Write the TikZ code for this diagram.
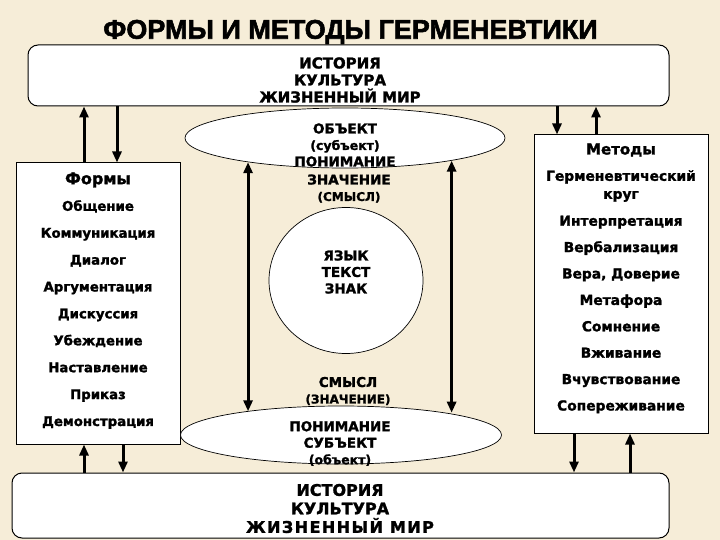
\documentclass[tikz,border=0pt]{standalone}
\usepackage{fontspec}
\setmainfont{DejaVu Sans}[BoldFeatures={FakeBold=1.6}]
\newfontfamily\ttlfont{Liberation Sans}[BoldFeatures={FakeBold=2}]
\newfontfamily\widefont[LetterSpace=9,BoldFeatures={FakeBold=1.6}]{DejaVu Sans}
\usetikzlibrary{shapes.geometric,arrows.meta}
\definecolor{parchment}{RGB}{246,237,216}

\begin{document}
\begin{tikzpicture}[x=1pt,y=-1pt]\tikzstyle{every node}=[font=\bfseries\fontsize{13.5}{16.5}\selectfont, align=center, inner sep=0pt]
\tikzstyle{panel}=[draw, fill=white, line width=1pt]
\tikzstyle{oval}=[draw, fill=white, line width=0.7pt, ellipse]
\tikzstyle{arw}=[line width=3pt, -{Triangle[width=9pt,length=11pt]}]
\tikzstyle{dblarw}=[line width=3pt, {Triangle[width=9pt,length=11pt]}-{Triangle[width=9pt,length=11pt]}]
\fill[parchment] (0,0) rectangle (720,540);
\useasboundingbox (0,0) rectangle (720,540);
%%%%%%%%%%%%%
\node[font=\ttlfont\bfseries\fontsize{27}{30}\selectfont] (title) at (350.5,32) {ФОРМЫ И МЕТОДЫ ГЕРМЕНЕВТИКИ};
\node[panel, rounded corners=10pt, minimum width=641pt, minimum height=61pt] (top) at (348.5,75.5) {};
\node[panel, rounded corners=10pt, minimum width=657pt, minimum height=65pt] (bot) at (340.5,505.5) {};
\node[panel, minimum width=164pt, minimum height=281pt] (forms) at (98,303.5) {};
\node[panel, minimum width=174pt, minimum height=298pt] (meth) at (621,284) {};
\node[oval, minimum width=320pt, minimum height=60pt] (topell) at (345,138) {};
\node[oval, minimum width=154pt, minimum height=146pt] (circ) at (346,280.5) {};
\node[oval, minimum width=321pt, minimum height=58pt] (botell) at (341,435) {};
%%%%%%%%%%%%%
\node[font=\bfseries\fontsize{15}{17}\selectfont] (toptxt) at (340,80) {ИСТОРИЯ\\КУЛЬТУРА\\ЖИЗНЕННЫЙ МИР};
\node[font=\bfseries\fontsize{16}{18.5}\selectfont] (bottxt) at (340,508.5) {ИСТОРИЯ\\КУЛЬТУРА\\{\widefont ЖИЗНЕННЫЙ МИР}};
\node[font=\bfseries\fontsize{16}{20}\selectfont] (formhd) at (98,180) {Формы};
\node[font=\bfseries\fontsize{13.3}{26.9}\selectfont] (formlist) at (98,314.5) {Общение\\Коммуникация\\Диалог\\Аргументация\\Дискуссия\\Убеждение\\Наставление\\Приказ\\Демонстрация};
\node[font=\bfseries\fontsize{15}{18}\selectfont] (methhd) at (621,150) {Методы};
\node[font=\bfseries\fontsize{13.8}{18}\selectfont] (methcirc) at (621,186) {Герменевтический\\круг};
\node[font=\bfseries\fontsize{13.8}{26.4}\selectfont] (methlist) at (621,314.5) {Интерпретация\\Вербализация\\Вера, Доверие\\Метафора\\Сомнение\\Вживание\\Вчувствование\\Сопереживание};
\node (objtxt) at (345,145) {ОБЪЕКТ\\{\fontsize{12.5}{16.5}\selectfont(субъект)}\\ПОНИМАНИЕ};
\node (meantxt) at (349,188.5) {ЗНАЧЕНИЕ\\{\fontsize{12}{16.5}\selectfont(СМЫСЛ)}};
\node (signtxt) at (346,272) {ЯЗЫК\\ТЕКСТ\\ЗНАК};
\node (senstxt) at (348,391) {СМЫСЛ\\{\fontsize{12}{16.5}\selectfont(ЗНАЧЕНИЕ)}};
\node (subjtxt) at (340,443.5) {ПОНИМАНИЕ\\СУБЪЕКТ\\{\fontsize{12.5}{16.5}\selectfont(объект)}};
%%%%%%%%%%%%%
\draw[arw] ([xshift=-14pt]forms.north) -- ([xshift=-14pt]forms.north |- top.south);
\draw[arw] ([xshift=19pt]forms.north |- top.south) -- ([xshift=19pt]forms.north);
\draw[arw] ([xshift=-14pt]forms.south |- bot.north) -- ([xshift=-14pt]forms.south);
\draw[arw] ([xshift=25pt]forms.south) -- ([xshift=25pt]forms.south |- bot.north);
\draw[arw] ([xshift=-64pt]meth.north |- top.south) -- ([xshift=-64pt]meth.north);
\draw[arw] ([xshift=-25pt]meth.north) -- ([xshift=-25pt]meth.north |- top.south);
\draw[arw] ([xshift=-47pt]meth.south) -- ([xshift=-47pt]meth.south |- bot.north);
\draw[arw] ([xshift=9pt]meth.south |- bot.north) -- ([xshift=9pt]meth.south);
\draw[dblarw] (topell.194) -- (topell.194 |- botell.166);
\draw[dblarw] (topell.-12) -- (topell.-12 |- botell.12);
\end{tikzpicture}
\end{document}
